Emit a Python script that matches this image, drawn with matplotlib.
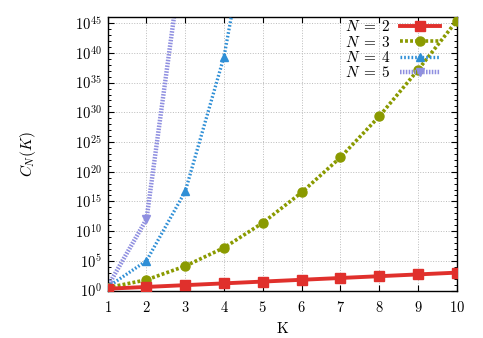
import numpy as np
import matplotlib
matplotlib.use('Agg')
import matplotlib.pyplot as plt
from matplotlib.ticker import NullFormatter, FixedLocator

plt.rcParams['font.family'] = 'serif'
plt.rcParams['font.serif'] = ['cmr10']
plt.rcParams['mathtext.fontset'] = 'cm'
plt.rcParams['axes.formatter.use_mathtext'] = True
plt.rcParams['axes.unicode_minus'] = False

# values
K = [1, 2, 3, 4, 5, 6, 7, 8, 9, 10]
c2 = [2, 4, 8, 16, 32, 64, 128, 256, 512, 1024]
c3 = [3, 63, 1.3e4, 1.6e7, 2.5e11, 3.2e16, 2.5e22, 2e29, 1.3e37, 2.5e45]
k4 = [1, 2, 3, 4, 5]
c4 = [4, 1e5, 5e16, 2.5e39, 1e75]
k5 = [1, 2, 3]
c5 = [5, 1e12, 1e60]
labels = [r'$N\;=\;2$', r'$N\;=\;3$', r'$N\;=\;4$', r'$N\;=\;5$']

fig = plt.figure(figsize=(4.83, 3.38), dpi=100)
ax = fig.add_axes([0.223, 0.1405, 0.7225, 0.8083])

ax.plot(K, c2, color='#e0302c', lw=2.8, marker='s', ms=6.5,
        label=labels[0], zorder=5)
ax.plot(K, c3, color='#8a9a00', lw=2.6, ls=(0, (0.8, 0.6)), marker='o', ms=6.5,
        label=labels[1], zorder=4)
ax.plot(k4, c4, color='#2f8fd6', lw=2.4, ls=(0, (0.5, 0.6)), marker='^', ms=6,
        label=labels[2], zorder=3)
ax.plot(k5, c5, color='#8f8fe0', lw=3.2, ls=(0, (0.35, 0.3)), marker='v', ms=6,
        label=labels[3], zorder=2)

ax.set_yscale('log')
ax.set_xlim(1, 10)
ax.set_ylim(1, 1e46)
ax.xaxis.set_major_locator(FixedLocator(K))
ax.yaxis.set_major_locator(FixedLocator([10.0 ** e for e in range(0, 46, 5)]))
ax.yaxis.set_minor_locator(FixedLocator([10.0 ** e for e in range(0, 47)]))
ax.yaxis.set_minor_formatter(NullFormatter())

ax.tick_params(which='both', direction='in', top=True, right=True, labelsize=10.5)
ax.tick_params(which='major', length=4, width=0.8)
ax.tick_params(which='minor', length=2.5, width=0.7)
ax.tick_params(axis='x', pad=7)
ax.tick_params(axis='y', pad=4)
ax.grid(True, which='major', color='#bbbbbb', ls=':', lw=0.7)
for s in ax.spines.values():
    s.set_linewidth(1.0)

ax.set_xlabel('K', fontsize=11)
ax.xaxis.set_label_coords(0.5, -0.115)
ax.set_ylabel('$C_N(K)$', fontsize=11)
ax.yaxis.set_label_coords(-0.2, 0.5)

ax.legend(loc='upper right', frameon=False, markerfirst=False, fontsize=11,
          handlelength=2.6, labelspacing=0.02, borderaxespad=0.0,
          bbox_to_anchor=(0.97, 1.015), handletextpad=0.6)

fig.savefig('out.png', dpi=100)
